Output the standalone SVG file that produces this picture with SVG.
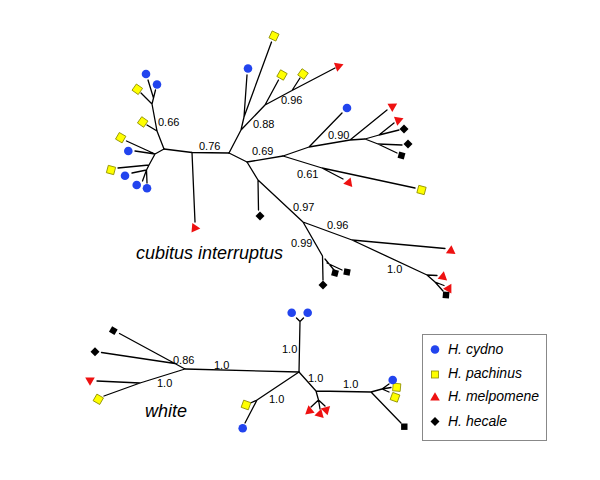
<svg xmlns="http://www.w3.org/2000/svg" xmlns:xlink="http://www.w3.org/1999/xlink" width="600" height="480" viewBox="0 0 600 480">
<style>
.br{fill:none;stroke:#000;stroke-width:1.3;stroke-linejoin:round;stroke-linecap:round}
.lb{font-family:"Liberation Sans",Arial,sans-serif;font-size:11px;fill:#000}
.tt{font-family:"Liberation Sans",Arial,sans-serif;font-size:18px;font-style:italic;fill:#000}
.lg{font-family:"Liberation Sans",Arial,sans-serif;font-size:14px;font-style:italic;fill:#000}
</style>
<defs>
<circle id="c" r="4.3" fill="#2244ee"/>
<rect id="s" x="-3.8" y="-3.8" width="7.6" height="7.6" fill="#ffff00" stroke="#8c8c00" stroke-width="0.8"/>
<path id="t" d="M0,-4.8 L4.8,3.6 L-4.8,3.6 Z" fill="#ee1111"/>
<rect id="d" x="-3.2" y="-3.2" width="6.4" height="6.4" fill="#000"/>
</defs>
<rect width="600" height="480" fill="#fff"/>
<g id="connectors">
<path class="br" d="M164,149 L192,152.5 L229,153"/>
<path class="br" d="M192,152.5 L195,222"/>
<path class="br" d="M164,149 L157,131 L152,104 L153.5,98 L148,80 M153.5,98 L155.5,90 M157,131 L147,125 M152,104 L141,93"/>
<path class="br" d="M164,149 L155,154 L149,165 L146.5,170 M155,154 L126.5,141 M155,154 L135,151 M149,165 L118,168 M146.5,170 L132,173 M146.5,170 L142.5,181 M146.5,170 L147,183"/>
<path class="br" d="M229,153 L241,130 L244,117 L247,75 M244,117 L271.5,42 M241,130 L265,105 L292,90.5 L335,68 M265,105 L278.5,80 M292,90.5 L300,78"/>
<path class="br" d="M229,153 L247,162 L283,156 L309,147 L350,140 L365,139 M309,147 L342,113 M350,140 L387,110 M365,139 L379,135 L394,123 M379,135 L399,130 M365,139 L378,144 L402,145 M378,144 L397,153"/>
<path class="br" d="M283,156 L322,168 L415,188 M322,168 L343,179"/>
<path class="br" d="M247,162 L258,180 L258.5,210 M258,180 L303,222 L352,240 L445,248.5 M352,240 L427,275 L435,282 L443,291 M427,275 L437,275.5 M435,282 L444,285.5 M303,222 L322.5,256 L323,280 M325,259 L334,270 M327,263 L342,270"/>
<path class="br" d="M119.5,333.5 L185,369 M101.5,352.5 L175,363.5 M185,369 L140,383 L104,396 M140,383 L97,381 M185,369 L299,372"/>
<path class="br" d="M299,372 L300,321.5 M300,321.5 L296.5,318 M300,321.5 L303.5,318 M299,372 L257,400 L245,423 M257,400 L250.5,403"/>
<path class="br" d="M299,372 L316,391 L371,392 L401,423 M316,391 L318.5,400 M318.5,400 L311,407 M318.5,400 L320,409 M318.5,400 L325,406 M371,392 L382,389 M382,389 L389,384 M382,389 L391,387.5 M382,389 L389,392"/>
</g>
<g id="top-leaves">
<g id="c1"><use href="#c" x="146" y="74"/></g>
<g id="c2"><use href="#c" x="157" y="84.5"/></g>
<g id="c3"><use href="#c" x="128.3" y="151"/></g>
<g id="c4"><use href="#c" x="125" y="175.7"/></g>
<g id="c5"><use href="#c" x="136.7" y="185"/></g>
<g id="c6"><use href="#c" x="147" y="188.3"/></g>
<g id="c7"><use href="#c" x="248" y="68.5"/></g>
<g id="c8"><use href="#c" x="347" y="108"/></g>
<g id="s1"><use href="#s" transform="translate(142.7,122) rotate(35)"/></g>
<g id="s2"><use href="#s" transform="translate(137.3,89.3) rotate(35)"/></g>
<g id="s3"><use href="#s" transform="translate(120.7,137.7) rotate(30)"/></g>
<g id="s4"><use href="#s" transform="translate(111,170) rotate(15)"/></g>
<g id="s5"><use href="#s" transform="translate(274,36) rotate(25)"/></g>
<g id="s6"><use href="#s" transform="translate(282,75) rotate(30)"/></g>
<g id="s7"><use href="#s" transform="translate(303,74) rotate(35)"/></g>
<g id="s8"><use href="#s" transform="translate(421.5,190) rotate(15)"/></g>
<g id="t1"><use href="#t" transform="translate(195.5,228) rotate(95)"/></g>
<g id="t2"><use href="#t" transform="translate(339,66) rotate(70)"/></g>
<g id="t3"><use href="#t" transform="translate(393,106) rotate(60)"/></g>
<g id="t4"><use href="#t" transform="translate(399,120) rotate(70)"/></g>
<g id="t5"><use href="#t" transform="translate(349,182) rotate(20)"/></g>
<g id="t6"><use href="#t" transform="translate(451,250) rotate(5)"/></g>
<g id="t7"><use href="#t" transform="translate(443,276) rotate(10)"/></g>
<g id="t8"><use href="#t" transform="translate(449,288) rotate(30)"/></g>
<g id="d1"><use href="#d" transform="translate(404,129) rotate(45)"/></g>
<g id="d2"><use href="#d" transform="translate(408,144) rotate(45)"/></g>
<g id="d3"><use href="#d" transform="translate(401.5,155.5) rotate(15)"/></g>
<g id="d4"><use href="#d" transform="translate(260,216) rotate(45)"/></g>
<g id="d5"><use href="#d" transform="translate(323,285) rotate(45)"/></g>
<g id="d6"><use href="#d" transform="translate(335,273) rotate(15)"/></g>
<g id="d7"><use href="#d" transform="translate(347,272) rotate(10)"/></g>
<g id="d8"><use href="#d" transform="translate(446,295) rotate(5)"/></g>
</g>
<g id="bottom-leaves">
<g id="bd1"><use href="#d" transform="translate(113.3,330.7) rotate(30)"/></g>
<g id="bd2"><use href="#d" transform="translate(95,351.7) rotate(45)"/></g>
<g id="bd3"><use href="#d" transform="translate(404.3,426.7)"/></g>
<g id="bt1"><use href="#t" transform="translate(90,381) rotate(180)"/></g>
<g id="bt2"><use href="#t" transform="translate(309.3,410) rotate(-10)"/></g>
<g id="bt3"><use href="#t" transform="translate(320,413.3) rotate(15)"/></g>
<g id="bt4"><use href="#t" transform="translate(326.7,409.3) rotate(45)"/></g>
<g id="bs1"><use href="#s" transform="translate(98.3,399.3) rotate(30)"/></g>
<g id="bs2"><use href="#s" transform="translate(246,405) rotate(20)"/></g>
<g id="bs3"><use href="#s" transform="translate(396.7,387.3) rotate(5)"/></g>
<g id="bs4"><use href="#s" transform="translate(395,397.3) rotate(20)"/></g>
<g id="bc1"><use href="#c" x="291.7" y="312.7"/></g>
<g id="bc2"><use href="#c" x="307.7" y="312.7"/></g>
<g id="bc3"><use href="#c" x="242.7" y="428.3"/></g>
<g id="bc4"><use href="#c" x="392.7" y="380"/></g>
</g>
<g id="labels">
<text class="lb" x="158" y="126">0.66</text>
<text class="lb" x="199" y="150">0.76</text>
<text class="lb" x="253" y="128">0.88</text>
<text class="lb" x="281" y="104">0.96</text>
<text class="lb" x="328" y="139">0.90</text>
<text class="lb" x="252" y="155">0.69</text>
<text class="lb" x="297" y="178">0.61</text>
<text class="lb" x="293" y="211">0.97</text>
<text class="lb" x="327" y="229">0.96</text>
<text class="lb" x="291" y="247">0.99</text>
<text class="lb" x="387" y="273">1.0</text>
<text class="tt" x="136" y="259">cubitus interruptus</text>
<text class="lb" x="173" y="364">0.86</text>
<text class="lb" x="214" y="369">1.0</text>
<text class="lb" x="157" y="387">1.0</text>
<text class="tt" x="145" y="417">white</text>
<text class="lb" x="282" y="353">1.0</text>
<text class="lb" x="269" y="403">1.0</text>
<text class="lb" x="308" y="382">1.0</text>
<text class="lb" x="343" y="388">1.0</text>
</g>
<g id="legend">
<rect x="422.5" y="334.5" width="124" height="106" fill="#fff" stroke="#888" stroke-width="1"/>
<use href="#c" x="435" y="349.5"/>
<rect x="431.5" y="371" width="7" height="7" fill="#ffff00" stroke="#8c8c00" stroke-width="0.8"/>
<use href="#t" x="435" y="397"/>
<use href="#d" transform="translate(435,421.5) rotate(45)"/>
<text class="lg" x="448" y="353.5">H. cydno</text>
<text class="lg" x="448" y="378">H. pachinus</text>
<text class="lg" x="448" y="401">H. melpomene</text>
<text class="lg" x="448" y="425.5">H. hecale</text>
</g>
</svg>
